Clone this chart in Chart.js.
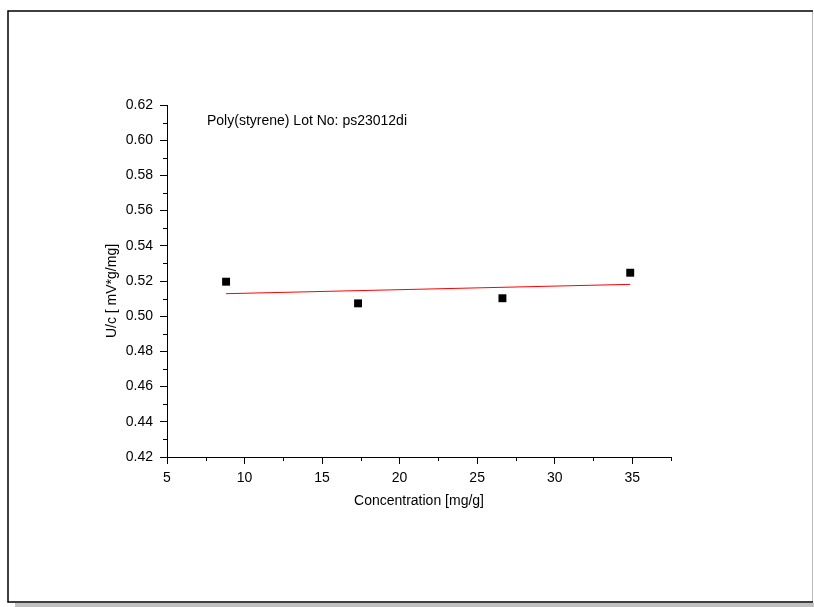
<!DOCTYPE html>
<html>
<head>
<meta charset="utf-8">
<title>Poly(styrene) U/c vs concentration</title>
<script src="https://cdn.jsdelivr.net/npm/chart.js@4/dist/chart.umd.min.js"></script>
<style>
  html, body { margin: 0; padding: 0; background: #fff; }
  canvas { display: block; }
</style>
</head>
<body>
<canvas id="chart" width="814" height="607"></canvas>
<script>
// Measured points
const concentration = [8.81, 17.32, 26.63, 34.87];
const signal = [0.5196, 0.5073, 0.5102, 0.5247];

// Linear fit line (end points)
const fitX = [8.81, 34.87];
const fitY = [0.5128, 0.5181];

// Axis ticks
const xTicks = [5, 10, 15, 20, 25, 30, 35];
const xMinorTicks = [7.5, 12.5, 17.5, 22.5, 27.5, 32.5, 37.5];
const yTicks = [0.42, 0.44, 0.46, 0.48, 0.50, 0.52, 0.54, 0.56, 0.58, 0.60, 0.62];
const yMinorTicks = [0.43, 0.45, 0.47, 0.49, 0.51, 0.53, 0.55, 0.57, 0.59, 0.61];

const FONT = 'Liberation Sans, Arial, sans-serif';

// Page frame with grey shadow
const framePlugin = {
    id: 'frame',
    beforeDraw(chart) {
        const ctx = chart.ctx;
        ctx.save();
        ctx.fillStyle = '#ffffff';
        ctx.fillRect(0, 0, chart.width, chart.height);
        // shadow
        ctx.fillStyle = '#c0c0c0';
        ctx.fillRect(15, 603, 799, 4);
        // right edge, mostly cut off
        ctx.strokeStyle = '#b8b8b8';
        ctx.lineWidth = 1;
        ctx.beginPath();
        ctx.moveTo(812.5, 12);
        ctx.lineTo(812.5, 602);
        ctx.stroke();
        // black frame: top, left, bottom
        ctx.strokeStyle = '#000000';
        ctx.lineWidth = 1.5;
        ctx.beginPath();
        ctx.moveTo(813, 11);
        ctx.lineTo(8, 11);
        ctx.lineTo(8, 602);
        ctx.lineTo(813, 602);
        ctx.stroke();
        ctx.restore();
    }
};

// Minor ticks and text labels
const extrasPlugin = {
    id: 'extras',
    afterDraw(chart) {
        const ctx = chart.ctx;
        const xs = chart.scales.x;
        const ys = chart.scales.y;
        const area = chart.chartArea;
        ctx.save();
        ctx.strokeStyle = '#000000';
        ctx.lineWidth = 1;
        ctx.beginPath();
        xMinorTicks.forEach(v => {
            const px = Math.round(xs.getPixelForValue(v)) + 0.5;
            ctx.moveTo(px, area.bottom);
            ctx.lineTo(px, area.bottom + 4);
        });
        yMinorTicks.forEach(v => {
            const py = Math.round(ys.getPixelForValue(v)) + 0.5;
            ctx.moveTo(area.left, py);
            ctx.lineTo(area.left - 4, py);
        });
        ctx.stroke();

        ctx.fillStyle = '#000000';
        ctx.font = '14px ' + FONT;
        ctx.textBaseline = 'middle';

        ctx.textAlign = 'left';
        ctx.fillText('Poly(styrene) Lot No: ps23012di', 207, 121);

        ctx.textAlign = 'center';
        ctx.fillText('Concentration [mg/g]', (area.left + area.right) / 2, 501);

        ctx.translate(112, 291);
        ctx.rotate(-Math.PI / 2);
        ctx.fillText('U/c [ mV*g/mg]', 0, 0);
        ctx.restore();
    }
};

const ctx = document.getElementById('chart');

new Chart(ctx, {
    type: 'scatter',
    data: {
        datasets: [{
            label: 'Data',
            data: concentration.map((x, i) => ({ x: x, y: signal[i] })),
            pointStyle: 'rect',
            pointRadius: 5.6,
            pointHoverRadius: 5.6,
            backgroundColor: '#000000',
            borderColor: '#000000',
            borderWidth: 0,
            order: 1
        }, {
            type: 'line',
            label: 'Fit',
            data: fitX.map((x, i) => ({ x: x, y: fitY[i] })),
            borderColor: '#ff0000',
            borderWidth: 1,
            pointRadius: 0,
            fill: false,
            tension: 0,
            order: 2
        }]
    },
    options: {
        responsive: false,
        animation: false,
        events: [],
        layout: {
            padding: { left: 0, top: 105, right: 143, bottom: 0 }
        },
        plugins: {
            legend: { display: false },
            title: { display: false },
            tooltip: { enabled: false }
        },
        scales: {
            x: {
                type: 'linear',
                min: 5,
                max: 37.5,
                afterFit(scale) { scale.height = 150; },
                afterBuildTicks(scale) {
                    scale.ticks = xTicks.map(v => ({ value: v }));
                },
                border: { display: true, color: '#000000', width: 1 },
                grid: {
                    drawOnChartArea: false,
                    drawTicks: true,
                    tickLength: 7,
                    tickColor: '#000000',
                    color: '#000000'
                },
                ticks: {
                    autoSkip: false,
                    maxRotation: 0,
                    padding: 6,
                    color: '#000000',
                    font: { family: FONT, size: 14 },
                    callback: v => String(v)
                }
            },
            y: {
                type: 'linear',
                min: 0.42,
                max: 0.62,
                afterFit(scale) { scale.width = 167; },
                afterBuildTicks(scale) {
                    scale.ticks = yTicks.map(v => ({ value: v }));
                },
                border: { display: true, color: '#000000', width: 1 },
                grid: {
                    drawOnChartArea: false,
                    drawTicks: true,
                    tickLength: 7,
                    tickColor: '#000000',
                    color: '#000000'
                },
                ticks: {
                    autoSkip: false,
                    padding: 7,
                    color: '#000000',
                    font: { family: FONT, size: 14 },
                    callback: v => Number(v).toFixed(2)
                }
            }
        }
    },
    plugins: [framePlugin, extrasPlugin]
});
</script>
</body>
</html>
